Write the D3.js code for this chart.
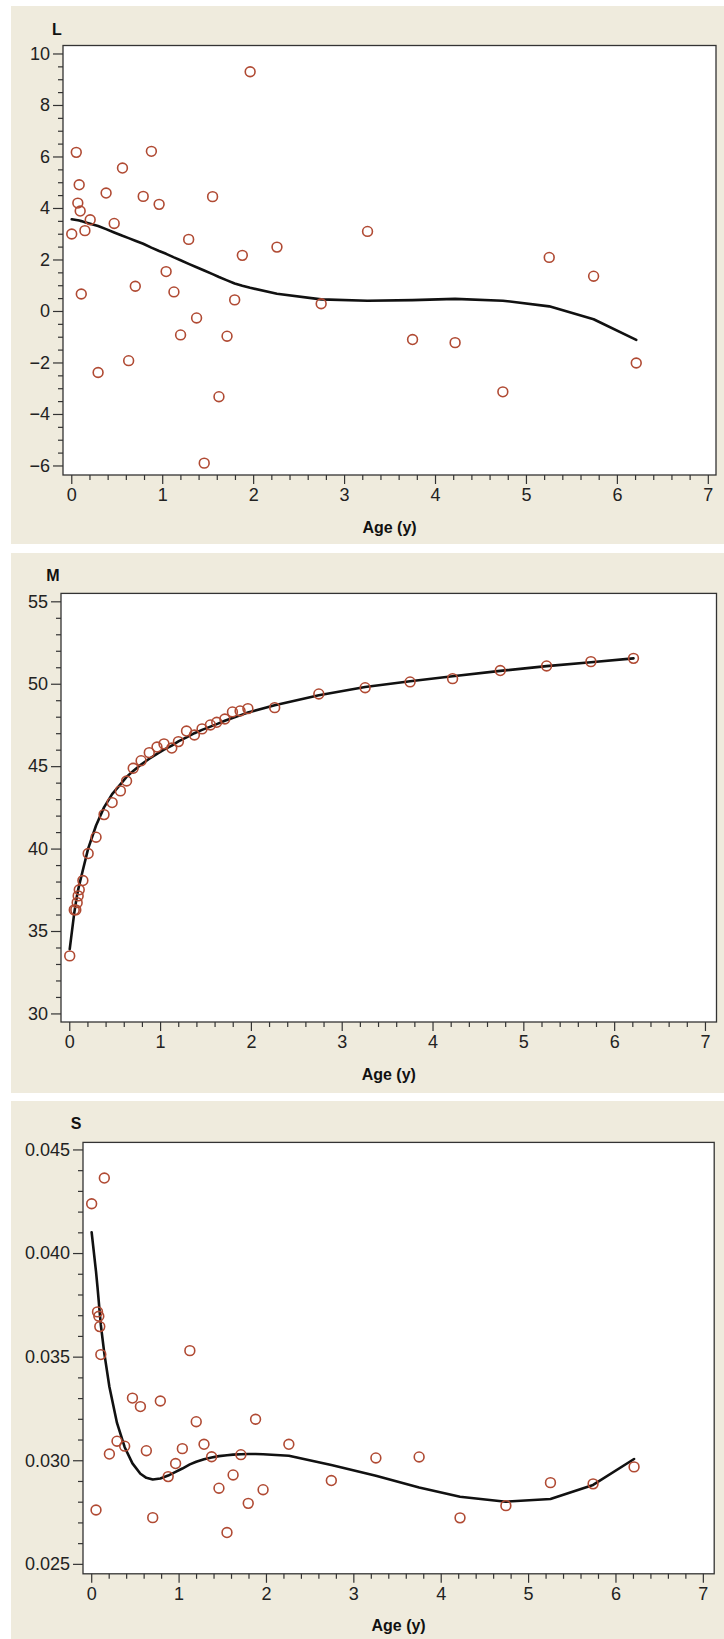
<!DOCTYPE html>
<html>
<head>
<meta charset="utf-8">
<script src="https://cdn.jsdelivr.net/npm/d3@7"></script>
<style>
  html, body { margin: 0; padding: 0; background: #ffffff; }
  svg { display: block; }
  .tick text { font-family: "Liberation Sans Narrow", "Arial Narrow", "Liberation Sans", sans-serif; font-size: 18px; fill: #222; }
  .domain { display: none; }
  .tick line { stroke: #333; stroke-width: 1.2px; }
</style>
</head>
<body>
<svg id="chart" width="724" height="1639"></svg>
<script>
// ---- Data ----
const ages = [0.005, 0.055, 0.072, 0.087, 0.098, 0.11, 0.15, 0.208, 0.295, 0.383,
  0.472, 0.563, 0.631, 0.704, 0.791, 0.881, 0.966, 1.043, 1.129, 1.202,
  1.291, 1.378, 1.462, 1.554, 1.624, 1.713, 1.797, 1.881, 1.967, 2.262,
  2.748, 3.258, 3.753, 4.221, 4.746, 5.256, 5.744, 6.213];

const L_obs = [2.99, 6.16, 4.19, 4.90, 3.88, 0.66, 3.12, 3.54, -2.39, 4.58,
  3.40, 5.55, -1.93, 0.96, 4.45, 6.20, 4.14, 1.53, 0.74, -0.93,
  2.78, -0.27, -5.91, 4.44, -3.33, -0.98, 0.43, 2.16, 9.29, 2.48,
  0.28, 3.09, -1.11, -1.23, -3.14, 2.08, 1.35, -2.02];
const L_fit = [3.56, 3.53, 3.52, 3.51, 3.50, 3.49, 3.45, 3.39, 3.30, 3.18,
  3.05, 2.92, 2.83, 2.73, 2.61, 2.46, 2.33, 2.22, 2.08, 1.97,
  1.83, 1.70, 1.57, 1.43, 1.32, 1.19, 1.07, 0.98, 0.90, 0.67,
  0.45, 0.40, 0.42, 0.47, 0.40, 0.18, -0.32, -1.12];

const M_obs = [33.49, 36.28, 36.28, 36.72, 37.13, 37.5, 38.06, 39.7, 40.69, 42.06,
  42.79, 43.5, 44.1, 44.87, 45.33, 45.82, 46.16, 46.35, 46.1, 46.49,
  47.13, 46.89, 47.26, 47.5, 47.66, 47.86, 48.29, 48.35, 48.49, 48.55,
  49.38, 49.76, 50.11, 50.31, 50.8, 51.08, 51.34, 51.54];
const M_fit = [33.9, 36.1, 36.7, 37.2, 37.5, 37.8, 38.7, 40.0, 41.4, 42.5,
  43.3, 43.9, 44.35, 44.7, 45.1, 45.45, 45.75, 46.0, 46.25, 46.5,
  46.75, 47.0, 47.2, 47.4, 47.55, 47.75, 47.92, 48.08, 48.25, 48.7,
  49.3, 49.8, 50.15, 50.45, 50.78, 51.07, 51.3, 51.54];

const S_obs = [0.04238, 0.02760, 0.03716, 0.03695, 0.03645, 0.0351, 0.04362, 0.0303, 0.03092, 0.03068,
  0.0330, 0.03259, 0.03046, 0.02723, 0.03286, 0.02921, 0.02984, 0.03056, 0.03529, 0.03186,
  0.03077, 0.03017, 0.02865, 0.02651, 0.02929, 0.03027, 0.02792, 0.03198, 0.02858, 0.03077,
  0.02902, 0.03011, 0.03016, 0.02722, 0.02781, 0.02892, 0.02886, 0.02968];
const S_fit = [0.0410, 0.0391, 0.03835, 0.03763, 0.0371, 0.03653, 0.03516, 0.03355, 0.0318, 0.03063,
  0.02985, 0.02935, 0.02915, 0.02907, 0.02912, 0.02926, 0.02944, 0.0296, 0.0298, 0.02993,
  0.03005, 0.03013, 0.0302, 0.03024, 0.03027, 0.03029, 0.0303, 0.0303, 0.03029, 0.03022,
  0.02977, 0.02925, 0.02868, 0.02824, 0.0280, 0.02813, 0.02881, 0.03006];

const xTicks = [0, 1, 2, 3, 4, 5, 6, 7];
const L_ticks = [-6, -4, -2, 0, 2, 4, 6, 8, 10];
const M_ticks = [30, 35, 40, 45, 50, 55];
const S_ticks = [0.025, 0.030, 0.035, 0.040, 0.045];
const xLabel = "Age (y)";

// ---- Layout ----
const panels = [
  { title: "L", obs: L_obs, fit: L_fit, yTicks: L_ticks, yMinorStep: 0.5, yFmt: d3.format("d"),
    bg: [11, 6, 724, 544], plot: [63, 45.5, 716, 475], xDom: [-0.091, 7.09], yDom: [-6.37, 10.31], titlePos: [57, 29] },
  { title: "M", obs: M_obs, fit: M_fit, yTicks: M_ticks, yMinorStep: 1, yFmt: d3.format("d"),
    bg: [11, 553, 724, 1093], plot: [61, 593.4, 716.5, 1022], xDom: [-0.091, 7.127], yDom: [29.48, 55.48], titlePos: [53, 575] },
  { title: "S", obs: S_obs, fit: S_fit, yTicks: S_ticks, yMinorStep: 0.001, yFmt: d3.format(".3f"),
    bg: [11, 1101, 724, 1639], plot: [83, 1142.4, 714.2, 1573.8], xDom: [-0.094, 7.13], yDom: [0.02452, 0.04534], titlePos: [76, 1123] }
];

const svg = d3.select("#chart");

panels.forEach(p => {
  const [bx0, by0, bx1, by1] = p.bg;
  const [px0, py0, px1, py1] = p.plot;
  const g = svg.append("g");

  g.append("rect").attr("x", bx0).attr("y", by0).attr("width", bx1 - bx0).attr("height", by1 - by0)
    .attr("fill", "#efebdd");

  g.append("rect").attr("x", px0).attr("y", py0).attr("width", px1 - px0).attr("height", py1 - py0)
    .attr("fill", "#ffffff");

  const x = d3.scaleLinear().domain(p.xDom).range([px0, px1]);
  const y = d3.scaleLinear().domain(p.yDom).range([py1, py0]);

  // minor ticks
  const xMinor = d3.range(0, 7.0001, 0.2).filter(v => Math.abs(v - Math.round(v)) > 1e-6);
  const yMinor = d3.range(p.yTicks[0], p.yTicks[p.yTicks.length - 1] + p.yMinorStep * 0.01, p.yMinorStep)
    .filter(v => !p.yTicks.some(t => Math.abs(t - v) < p.yMinorStep * 0.01));

  g.append("g").attr("transform", `translate(0,${py1})`)
    .call(d3.axisBottom(x).tickValues(xMinor).tickSize(5).tickFormat(""));
  g.append("g").attr("transform", `translate(0,${py1})`)
    .call(d3.axisBottom(x).tickValues(xTicks).tickSize(9).tickPadding(4).tickFormat(d3.format("d")));

  g.append("g").attr("transform", `translate(${px0},0)`)
    .call(d3.axisLeft(y).tickValues(yMinor).tickSize(5).tickFormat(""));
  g.append("g").attr("transform", `translate(${px0},0)`)
    .call(d3.axisLeft(y).tickValues(p.yTicks).tickSize(10).tickPadding(3).tickFormat(p.yFmt));

  // frame
  g.append("rect").attr("x", px0).attr("y", py0).attr("width", px1 - px0).attr("height", py1 - py0)
    .attr("fill", "none").attr("stroke", "#333").attr("stroke-width", 1.3);

  // fitted line
  const line = d3.line().x((d, i) => x(ages[i])).y(d => y(d)).curve(d3.curveLinear);
  g.append("path").datum(p.fit).attr("d", line)
    .attr("fill", "none").attr("stroke", "#111").attr("stroke-width", 2.6)
    .attr("stroke-linejoin", "round").attr("stroke-linecap", "round");

  // observed points
  g.append("g").selectAll("circle").data(p.obs).join("circle")
    .attr("cx", (d, i) => x(ages[i])).attr("cy", d => y(d)).attr("r", 4.9)
    .attr("fill", "none").attr("stroke", "#b04a33").attr("stroke-width", 1.6);

  // titles
  g.append("text").attr("x", p.titlePos[0]).attr("y", p.titlePos[1])
    .attr("text-anchor", "middle").attr("dominant-baseline", "central")
    .attr("font-family", "Liberation Sans, Arial, sans-serif").attr("font-weight", "bold")
    .attr("font-size", 16).attr("fill", "#111").text(p.title);

  g.append("text").attr("x", (px0 + px1) / 2).attr("y", py1 + 52)
    .attr("text-anchor", "middle").attr("dominant-baseline", "central")
    .attr("font-family", "Liberation Sans, Arial, sans-serif").attr("font-weight", "bold")
    .attr("font-size", 16).attr("fill", "#111").text(xLabel);
});
</script>
</body>
</html>
